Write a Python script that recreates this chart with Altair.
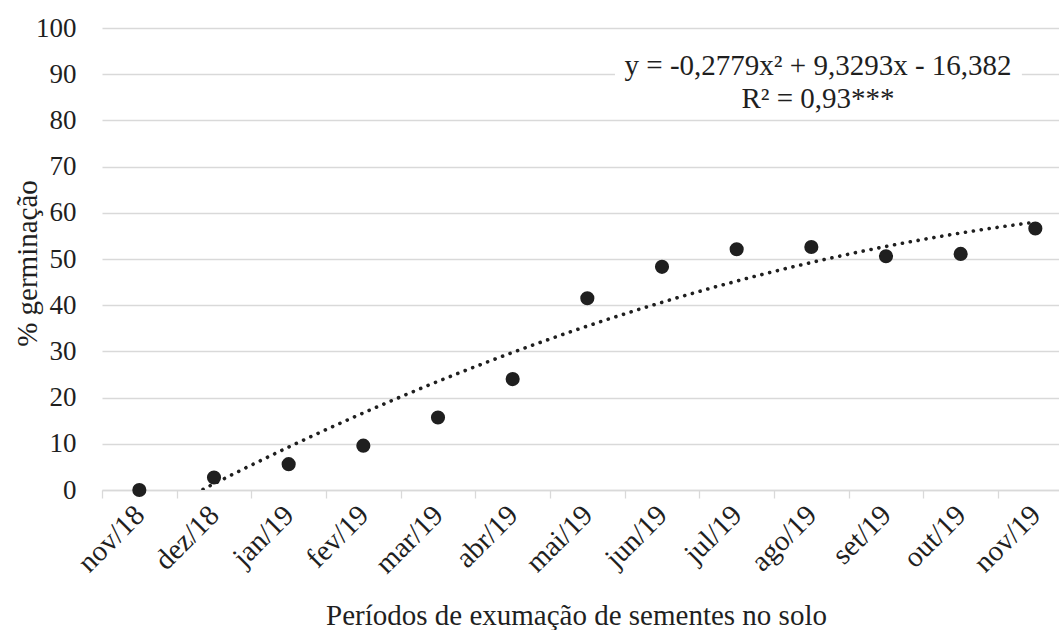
import altair as alt
import pandas as pd

# ---- data ----
months = ["nov/18", "dez/18", "jan/19", "fev/19", "mar/19", "abr/19", "mai/19",
          "jun/19", "jul/19", "ago/19", "set/19", "out/19", "nov/19"]
period_index = list(range(1, 14))
germination = [0, 2.7, 5.6, 9.6, 15.7, 24.0, 41.5, 48.3, 52.1, 52.6, 50.6, 51.1, 56.6]
y_ticks = list(range(0, 101, 10))
eq_lines = ["y = -0,2779x² + 9,3293x - 16,382", "R² = 0,93***"]

# ---- annotation placement (data units) ----
eq_x = 10.09
eq_y = [89.8, 82.6]
box_x = [7.37, 12.82]
box_y = [81.4, 96.6]

FONT = "Liberation Serif"
INK = "#1f1f1f"
GRID = "#d9d9d9"
PLOT_W, PLOT_H = 957, 462
X_DOMAIN = [0.5, 13.317]
band_px = PLOT_W / (X_DOMAIN[1] - X_DOMAIN[0])

df = pd.DataFrame({"idx": period_index, "month": months, "pct": germination})

x_scale = alt.Scale(domain=X_DOMAIN, nice=False, zero=False)
y_scale = alt.Scale(domain=[0, 100], nice=False, zero=True)

label_expr = "[" + ",".join(f"'{m}'" for m in months) + "][datum.value - 1]"

x_axis = alt.Axis(
    values=period_index, labelExpr=label_expr, labelAngle=-45,
    labelAlign="right", labelBaseline="middle", labelFont=FONT,
    labelFontSize=29, labelColor=INK, labelPadding=12, labelOverlap=False,
    labelFlush=False, labelBound=False,
    tickOffset=-band_px / 2, labelOffset=band_px / 2,
    tickSize=8, tickColor=GRID, tickWidth=1.3,
    domainColor=GRID, domainWidth=1.3, grid=False,
    title="Períodos de exumação de sementes no solo", titleFont=FONT,
    titleFontSize=29, titleFontWeight="normal", titleColor=INK,
    titleX=474, titleY=134, titleAlign="center", titleBaseline="alphabetic",
)

y_axis = alt.Axis(
    values=y_ticks, grid=True, gridColor=GRID, gridWidth=1.3,
    domain=False, ticks=False, tickSize=0, labelPadding=26,
    labelFont=FONT, labelFontSize=27, labelColor=INK,
    title="% germinação", titleFont=FONT, titleFontSize=29,
    titleFontWeight="normal", titleColor=INK, titleAngle=270,
    titleX=-66, titleY=235, titleAlign="center", titleBaseline="alphabetic",
)

base = alt.Chart(df)

points = base.mark_circle(size=200, color=INK, opacity=1).encode(
    x=alt.X("idx:Q", scale=x_scale, axis=x_axis),
    y=alt.Y("pct:Q", scale=y_scale, axis=y_axis),
)

trend = base.transform_regression(
    "idx", "pct", method="poly", order=2, extent=[1, 13]
).mark_line(
    color=INK, strokeWidth=3.6, strokeDash=[0.1, 7.9], strokeCap="round", clip=True
).encode(
    x=alt.X("idx:Q", scale=x_scale, axis=x_axis),
    y=alt.Y("pct:Q", scale=y_scale, axis=y_axis),
)

box_df = pd.DataFrame({"x0": [box_x[0]], "x1": [box_x[1]], "y0": [box_y[0]], "y1": [box_y[1]]})
box = alt.Chart(box_df).mark_rect(color="white").encode(
    x=alt.X("x0:Q", scale=x_scale, axis=x_axis), x2="x1",
    y=alt.Y("y0:Q", scale=y_scale, axis=y_axis), y2="y1",
)

text_df = pd.DataFrame({"label": eq_lines, "x": [eq_x, eq_x], "y": eq_y})
eq_text = alt.Chart(text_df).mark_text(
    font=FONT, fontSize=29, color=INK, align="center", baseline="alphabetic"
).encode(
    x=alt.X("x:Q", scale=x_scale, axis=x_axis),
    y=alt.Y("y:Q", scale=y_scale, axis=y_axis),
    text="label:N",
)

chart = alt.layer(box, eq_text, trend, points).properties(
    width=PLOT_W, height=PLOT_H,
    padding={"left": 102, "top": 28, "right": 0, "bottom": 140},
    autosize=alt.AutoSizeParams(type="none"),
    background="white",
).configure_view(stroke=None)

chart.save("out.html", embed_options={"renderer": "svg", "actions": False})
